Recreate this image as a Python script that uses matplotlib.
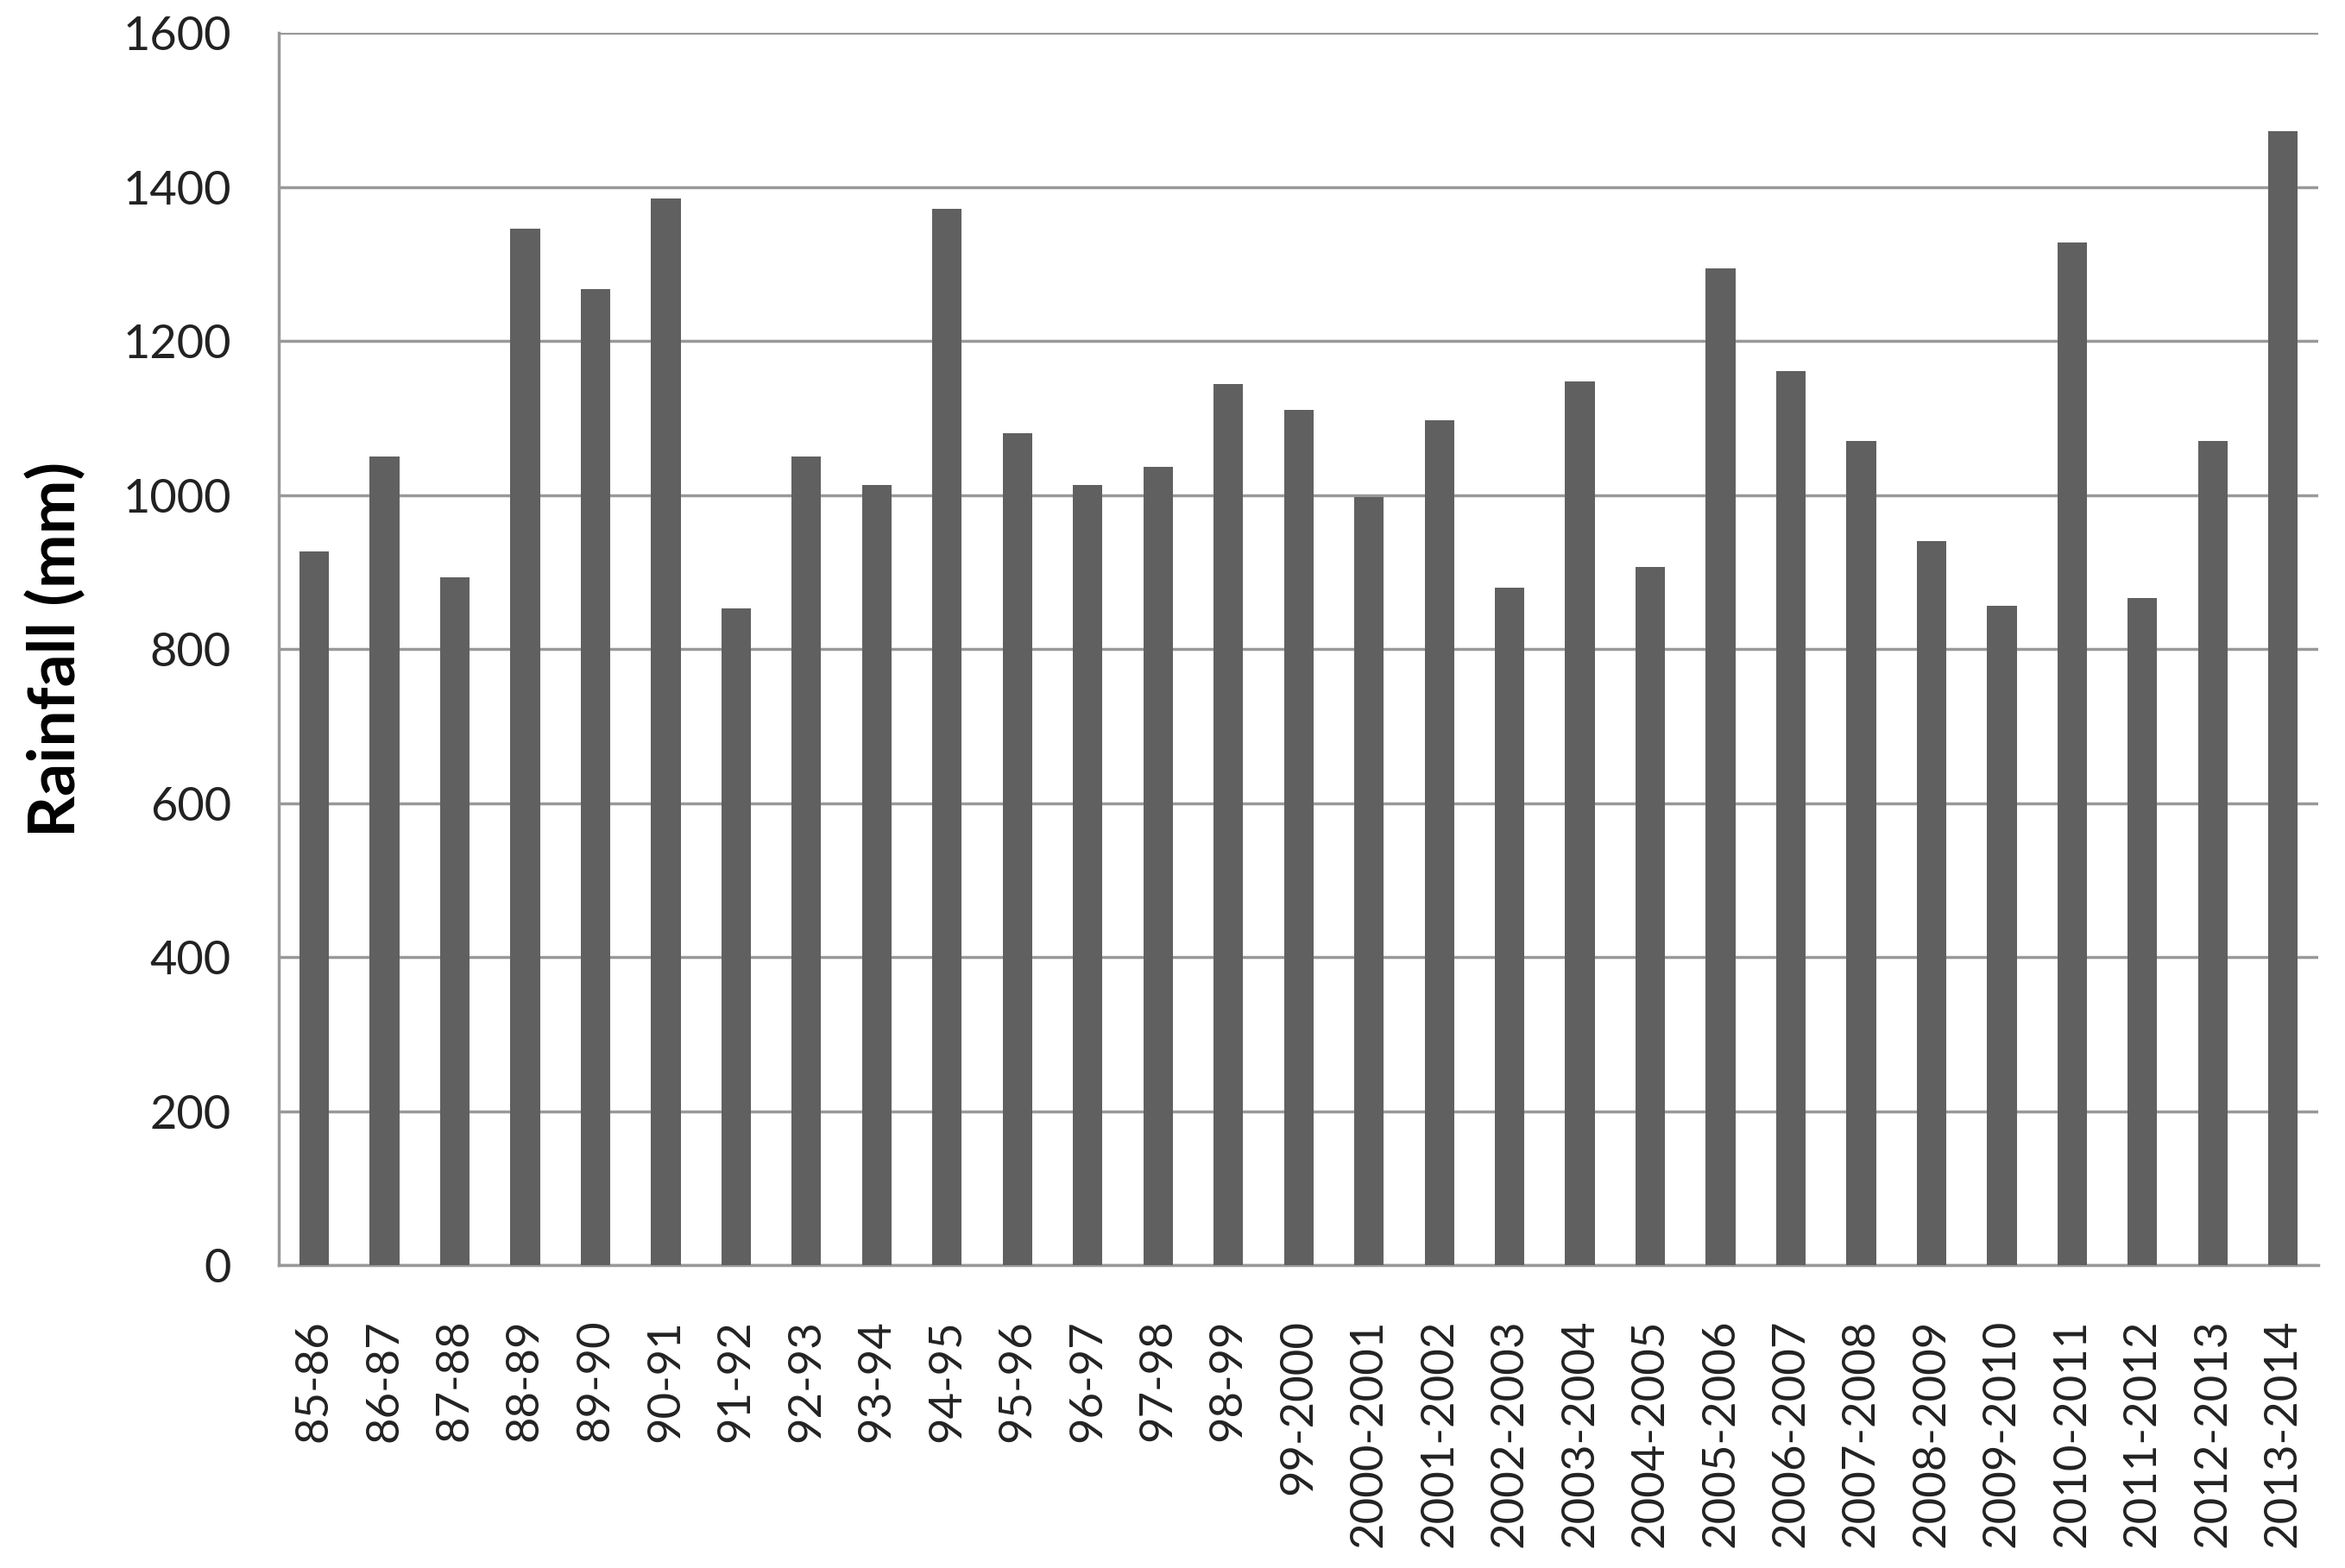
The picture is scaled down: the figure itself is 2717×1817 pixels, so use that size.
import matplotlib
matplotlib.use("Agg")
import matplotlib.pyplot as plt

seasons = ["85-86", "86-87", "87-88", "88-89", "89-90", "90-91", "91-92", "92-93",
           "93-94", "94-95", "95-96", "96-97", "97-98", "98-99", "99-2000",
           "2000-2001", "2001-2002", "2002-2003", "2003-2004", "2004-2005",
           "2005-2006", "2006-2007", "2007-2008", "2008-2009", "2009-2010",
           "2010-2011", "2011-2012", "2012-2013", "2013-2014"]
rainfall = [927, 1050, 893, 1346, 1268, 1385, 853, 1050, 1013, 1372, 1080, 1013,
            1037, 1144, 1111, 998, 1097, 880, 1148, 907, 1294, 1161, 1070, 940,
            856, 1328, 866, 1070, 1472]
yticks = [0, 200, 400, 600, 800, 1000, 1200, 1400, 1600]

plt.rcParams['font.family'] = ['Lato', 'DejaVu Sans']

fig = plt.figure(figsize=(27.17, 18.17), dpi=100)
ax = fig.add_axes([0.119, 0.193, 0.8696, 0.786])

x = range(len(seasons))
ax.bar(x, rainfall, width=0.42, color='#606060', zorder=3)

ax.set_ylim(0, 1600)
ax.set_xlim(-0.5, len(seasons) - 0.5)
ax.set_yticks(yticks)
ax.set_yticklabels([str(v) for v in yticks], fontsize=39, color='#222222')
ax.set_xticks(list(x))
ax.set_xticklabels(seasons, rotation=90, fontsize=38, color='#222222')
ax.tick_params(axis='y', length=0, pad=40)
ax.tick_params(axis='x', length=0, pad=45)

ax.yaxis.grid(True, color='#999999', linewidth=2.5, zorder=0)
ax.set_axisbelow(True)
for s in ['top', 'right']:
    ax.spines[s].set_visible(False)
for s in ['left', 'bottom']:
    ax.spines[s].set_color('#999999')
    ax.spines[s].set_linewidth(2.5)

ax.set_ylabel("Rainfall (mm)", fontsize=54, fontweight='bold', labelpad=30)

fig.savefig("out.png", dpi=100)
